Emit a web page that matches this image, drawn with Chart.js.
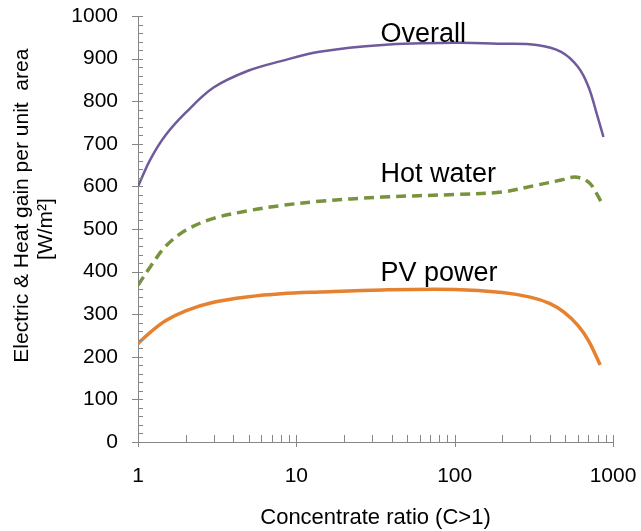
<!DOCTYPE html>
<html>
<head>
<meta charset="utf-8">
<script src="https://cdn.jsdelivr.net/npm/chart.js@4/dist/chart.umd.min.js"></script>
<style>
html,body{margin:0;padding:0;background:#fff;}
#wrap{width:641px;height:531px;}
</style>
</head>
<body>
<div id="wrap"><canvas id="c" width="641" height="531"></canvas></div>
<script>
// ---- data ----
const ratioOverall = [1, 1.2, 1.5, 2, 3, 5, 8, 14, 35, 100, 200, 330, 470, 600, 700, 800, 870];
const overall      = [600, 664, 721, 773, 832, 872, 894, 916, 932, 937, 935, 932, 916, 881, 834, 763, 716];
const ratioHot     = [1, 1.2, 1.5, 2, 3, 5, 8, 14, 35, 100, 200, 330, 470, 570, 650, 720, 780, 870];
const hotWater     = [368, 412, 460, 497, 525, 543, 555, 565, 575, 581, 587, 603, 615, 622, 617, 606, 586, 554];
const ratioPV      = [1, 1.2, 1.5, 2, 3, 5, 8, 14, 35, 100, 200, 300, 400, 490, 600, 700, 830];
const pvPower      = [231, 258, 285, 308, 328, 341, 348, 352, 357, 358, 351, 340, 325, 305, 274, 238, 181];
const yTickStep    = 100;
const xTickLabels  = [1, 10, 100, 1000];
const seriesNames  = ['Overall', 'Hot water', 'PV power'];
const seriesLabelAnchors = [[34, 940], [34, 611], [34, 378]];

const toPts = (xs, ys) => xs.map((x, i) => ({x: x, y: ys[i]}));
const AXIS = '#868686';
const FONT = '"Liberation Sans", Arial, sans-serif';

const tickPlugin = {
  id: 'ticks',
  afterDraw(chart) {
    const ctx = chart.ctx, xs = chart.scales.x, ys = chart.scales.y;
    const x0 = xs.left, y0 = ys.bottom;
    ctx.save();
    ctx.strokeStyle = AXIS;
    ctx.lineWidth = 1;
    ctx.beginPath();
    for (let v = 0; v <= 1000; v += yTickStep / 5) {
      const p = Math.round(ys.getPixelForValue(v)) + 0.5;
      const major = v % yTickStep === 0;
      ctx.moveTo(major ? x0 - 6 : x0, p);
      ctx.lineTo(x0 + 5, p);
    }
    for (let d = 1; d <= 100; d *= 10) {
      for (let k = 1; k <= 10; k++) {
        const v = d * k;
        if (k === 10 && d !== 100) continue;
        const p = Math.round(xs.getPixelForValue(v)) + 0.5;
        const major = (k === 1 || k === 10);
        ctx.moveTo(p, y0 - 7);
        ctx.lineTo(p, major ? y0 + 5 : y0);
      }
    }
    ctx.stroke();
    ctx.restore();
  }
};

const labelPlugin = {
  id: 'seriesLabels',
  afterDatasetsDraw(chart) {
    const ctx = chart.ctx, xs = chart.scales.x, ys = chart.scales.y;
    ctx.save();
    ctx.fillStyle = '#000';
    ctx.font = '27px ' + FONT;
    ctx.textAlign = 'left';
    ctx.textBaseline = 'alphabetic';
    seriesNames.forEach((n, i) => {
      const a = seriesLabelAnchors[i];
      ctx.fillText(n, xs.getPixelForValue(a[0]), ys.getPixelForValue(a[1]));
    });
    ctx.restore();
  }
};

new Chart(document.getElementById('c'), {
  type: 'line',
  data: {
    datasets: [
      {label: seriesNames[0], data: toPts(ratioOverall, overall), borderColor: '#6F5A9C', borderWidth: 2.5, pointRadius: 0, tension: 0.35, fill: false},
      {label: seriesNames[1], data: toPts(ratioHot, hotWater), borderColor: '#77933C', borderWidth: 3.5, borderDash: [10, 6], pointRadius: 0, tension: 0.35, fill: false},
      {label: seriesNames[2], data: toPts(ratioPV, pvPower), borderColor: '#E5812F', borderWidth: 3.5, pointRadius: 0, tension: 0.35, fill: false}
    ]
  },
  options: {
    responsive: false,
    animation: false,
    layout: {padding: {top: 16, right: 28, left: 0, bottom: 0}},
    plugins: {legend: {display: false}, tooltip: {enabled: false}},
    scales: {
      x: {
        type: 'logarithmic', min: 1, max: 1000, position: 'bottom',
        grid: {display: false, drawTicks: false},
        border: {display: true, color: AXIS, width: 1},
        ticks: {
          autoSkip: false, maxRotation: 0, minRotation: 0, padding: 22, color: '#000',
          font: {family: FONT, size: 21},
          callback: (v) => xTickLabels.includes(v) ? String(v) : ''
        },
        title: {display: true, text: 'Concentrate ratio (C>1)', color: '#000',
          font: {family: FONT, size: 22}, padding: {top: 0, bottom: 0}},
        afterFit: (s) => { s.height = 89; s.paddingLeft = 0; s.paddingRight = 0; }
      },
      y: {
        min: 0, max: 1000,
        grid: {display: false, drawTicks: false},
        border: {display: true, color: AXIS, width: 1},
        ticks: {stepSize: yTickStep, padding: 20, color: '#000',
          font: {family: FONT, size: 21}, callback: (v) => String(v)},
        title: {display: true, text: ['        Electric & Heat gain per unit  area', '[W/m²]'], color: '#000',
          font: {family: FONT, size: 21, lineHeight: 1.15}, padding: {top: 10, bottom: 0}},
        afterFit: (s) => { s.width = 138; s.paddingTop = 0; s.paddingBottom = 0; }
      }
    }
  },
  plugins: [tickPlugin, labelPlugin]
});
</script>
</body>
</html>
